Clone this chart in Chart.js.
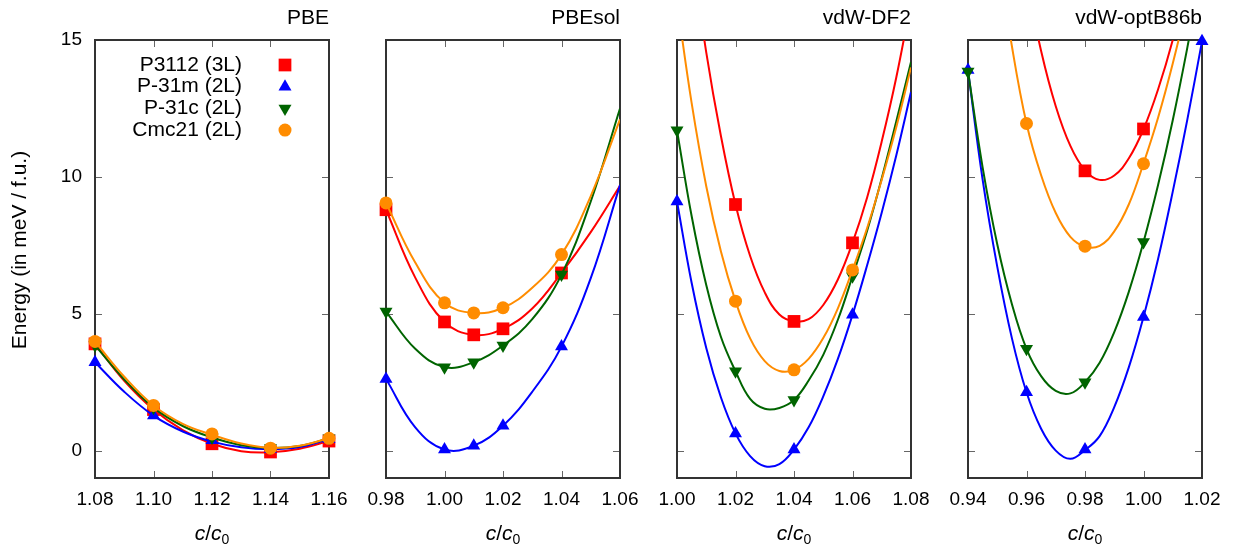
<!DOCTYPE html>
<html>
<head>
<meta charset="utf-8">
<script src="https://cdn.jsdelivr.net/npm/chart.js@4.4.1/dist/chart.umd.min.js"></script>
<style>
  html, body { margin: 0; padding: 0; background: #fff; }
  #wrap { position: relative; width: 1238px; height: 550px; }
  #wrap canvas { position: absolute; left: 0; top: 0; }
</style>
</head>
<body>
<div id="wrap">
  <canvas id="c0" width="1238" height="550"></canvas>
  <canvas id="c1" width="1238" height="550"></canvas>
  <canvas id="c2" width="1238" height="550"></canvas>
  <canvas id="c3" width="1238" height="550"></canvas>
</div>
<script>
// ---- data ----
const seriesNames = ['P3112 (3L)', 'P-31m (2L)', 'P-31c (2L)', 'Cmc21 (2L)'];
const panelTitles = ['PBE', 'PBEsol', 'vdW-DF2', 'vdW-optB86b'];
const yTicks = [0, 5, 10, 15];

// PBE
const pbeTicks = [1.08, 1.10, 1.12, 1.14, 1.16];
const pbeX = [1.08, 1.10, 1.12, 1.14, 1.16];
const pbeP3112 = [3.9, 1.5, 0.25, -0.05, 0.35];
const pbeP31m = [3.23, 1.28, 0.38, 0.05, 0.42];
const pbeP31c = [3.85, 1.57, 0.48, 0.1, 0.45];
const pbeCmc21 = [3.99, 1.65, 0.61, 0.09, 0.45];
const pbeFitX = [1.08, 1.09, 1.10, 1.11, 1.12, 1.13, 1.14, 1.15, 1.16];
const pbeFitP3112 = [3.9, 2.55, 1.5, 0.75, 0.25, -0.02, -0.06, 0.07, 0.35];
const pbeFitP31m = [3.23, 2.15, 1.28, 0.7, 0.33, 0.12, 0.05, 0.13, 0.42];
const pbeFitP31c = [3.85, 2.6, 1.57, 0.9, 0.48, 0.2, 0.1, 0.17, 0.45];
const pbeFitCmc21 = [3.99, 2.7, 1.65, 0.98, 0.58, 0.26, 0.1, 0.18, 0.45];

// PBEsol
const solTicks = [0.98, 1.00, 1.02, 1.04, 1.06];
const solX = [0.98, 1.00, 1.01, 1.02, 1.04];
const solP3112 = [8.8, 4.7, 4.23, 4.45, 6.49];
const solP31m = [2.62, 0.04, 0.18, 0.91, 3.8];
const solP31c = [5.08, 3.05, 3.23, 3.84, 6.43];
const solCmc21 = [9.05, 5.4, 5.03, 5.22, 7.16];
const solFitX = [0.98, 0.99, 1.00, 1.01, 1.02, 1.03, 1.04, 1.05, 1.06];
const solFitP3112 = [8.8, 6.32, 4.7, 4.23, 4.45, 5.19, 6.49, 7.98, 9.67];
const solFitP31m = [2.62, 0.85, 0.04, 0.18, 0.91, 2.15, 3.8, 6.3, 9.7];
const solFitP31c = [5.08, 3.72, 3.05, 3.23, 3.84, 4.8, 6.43, 9.1, 12.5];
const solFitCmc21 = [9.05, 6.87, 5.4, 5.03, 5.22, 5.95, 7.16, 9.3, 12.1];

// vdW-DF2
const df2Ticks = [1.00, 1.02, 1.04, 1.06, 1.08];
const df2X = [1.00, 1.02, 1.04, 1.06];
const df2P3112 = [null, 8.99, 4.72, 7.59];
const df2P31m = [9.1, 0.63, 0.04, 4.96];
const df2P31c = [11.7, 2.9, 1.85, 6.37];
const df2Cmc21 = [null, 5.46, 2.95, 6.6];
const df2FitX = [1.000, 1.005, 1.010, 1.015, 1.020, 1.025, 1.030, 1.035, 1.040,
                 1.045, 1.050, 1.055, 1.060, 1.065, 1.070, 1.075, 1.080];
const df2FitP3112 = [22.5, 18.3, 14.55, 11.5, 8.99, 7.11, 5.78, 4.97, 4.72, 4.8, 5.32, 6.25, 7.59, 9.25, 11.3, 13.65, 16.4];
const df2FitP31m = [9.1, 6.13, 3.75, 1.95, 0.63, -0.2, -0.57, -0.49, 0.04, 0.85, 1.98, 3.35, 4.96, 6.77, 8.7, 10.8, 13.1];
const df2FitP31c = [11.7, 8.57, 6.05, 4.16, 2.9, 1.89, 1.53, 1.56, 1.85, 2.56, 3.5, 4.78, 6.37, 8.03, 9.95, 12.04, 14.2];
const df2FitCmc21 = [16.4, 12.7, 9.66, 7.28, 5.46, 4.1, 3.27, 2.91, 2.95, 3.35, 4.11, 5.2, 6.6, 8.13, 9.9, 11.83, 14.0];

// vdW-optB86b
const b86Ticks = [0.94, 0.96, 0.98, 1.00, 1.02];
const b86X = [0.94, 0.96, 0.98, 1.00, 1.02];
const b86P3112 = [null, null, 10.22, 11.75, null];
const b86P31m = [13.9, 2.13, 0.04, 4.88, 14.95];
const b86P31c = [13.85, 3.72, 2.5, 7.62, null];
const b86Cmc21 = [null, 11.95, 7.47, 10.48, null];
const b86FitX = [0.940, 0.945, 0.950, 0.955, 0.960, 0.965, 0.970, 0.975, 0.980,
                 0.985, 0.990, 0.995, 1.000, 1.005, 1.010, 1.015, 1.020];
const b86FitP3112 = [34, 28.7, 24.2, 20.4, 17.2, 14.6, 12.58, 11.13, 10.24, 9.89, 10.05, 10.68, 11.74, 13.2, 15.0, 17.2, 19.8];
const b86FitP31m = [13.9, 9.9, 6.72, 4.11, 2.13, 0.8, 0.0, -0.3, 0.02, 0.53, 1.59, 3.05, 4.88, 7.01, 9.46, 12.1, 14.95];
const b86FitP31c = [13.85, 10.35, 7.54, 5.36, 3.72, 2.72, 2.18, 2.09, 2.5, 3.21, 4.33, 5.81, 7.62, 9.71, 12.07, 14.73, 17.6];
const b86FitCmc21 = [27.5, 22.5, 18.3, 14.78, 11.95, 10.06, 8.68, 7.81, 7.45, 7.48, 8.01, 9.0, 10.49, 12.17, 14.14, 16.4, 19.1];

// ---- styling ----
const family = '"Liberation Sans", Arial, Helvetica, sans-serif';
const colors = ['#ff0000', '#0000ff', '#006400', '#ff8c00'];
const markers = [
  { style: 'rect', radius: 9, rotation: 0 },
  { style: 'triangle', radius: 7.5, rotation: 0 },
  { style: 'triangle', radius: 7.5, rotation: 180 },
  { style: 'circle', radius: 6.5, rotation: 0 }
];
const plotLefts = [95, 386, 677, 968];
const plotWidth = 234;
const plotTop = 40;
const plotBottom = 478;

const panels = [
  { ticks: pbeTicks, x: pbeX, ys: [pbeP3112, pbeP31m, pbeP31c, pbeCmc21],
    fitX: pbeFitX, fits: [pbeFitP3112, pbeFitP31m, pbeFitP31c, pbeFitCmc21] },
  { ticks: solTicks, x: solX, ys: [solP3112, solP31m, solP31c, solCmc21],
    fitX: solFitX, fits: [solFitP3112, solFitP31m, solFitP31c, solFitCmc21] },
  { ticks: df2Ticks, x: df2X, ys: [df2P3112, df2P31m, df2P31c, df2Cmc21],
    fitX: df2FitX, fits: [df2FitP3112, df2FitP31m, df2FitP31c, df2FitCmc21] },
  { ticks: b86Ticks, x: b86X, ys: [b86P3112, b86P31m, b86P31c, b86Cmc21],
    fitX: b86FitX, fits: [b86FitP3112, b86FitP31m, b86FitP31c, b86FitCmc21] }
];

// frame, inward ticks and the texts gnuplot puts around the plot
const panelPlugin = {
  id: 'panel',
  beforeDatasetsDraw(chart, args, opts) {
    const { ctx, chartArea: a, scales: { x, y } } = chart;
    ctx.save();
    ctx.strokeStyle = '#666';
    ctx.lineWidth = 1;
    ctx.beginPath();
    x.ticks.forEach(t => {
      const px = Math.round(x.getPixelForValue(t.value)) + 0.5;
      ctx.moveTo(px, a.bottom); ctx.lineTo(px, a.bottom - 7);
      ctx.moveTo(px, a.top); ctx.lineTo(px, a.top + 7);
    });
    y.ticks.forEach(t => {
      const py = Math.round(y.getPixelForValue(t.value)) + 0.5;
      ctx.moveTo(a.left, py); ctx.lineTo(a.left + 7, py);
      ctx.moveTo(a.right, py); ctx.lineTo(a.right - 7, py);
    });
    ctx.stroke();
    ctx.strokeStyle = '#333';
    ctx.lineWidth = 2;
    ctx.strokeRect(a.left, a.top, a.right - a.left, a.bottom - a.top);
    ctx.restore();
  },
  afterDraw(chart, args, opts) {
    const { ctx, chartArea: a } = chart;
    ctx.save();
    ctx.fillStyle = '#000';

    ctx.font = '21px ' + family;
    ctx.textAlign = 'right';
    ctx.textBaseline = 'alphabetic';
    ctx.fillText(opts.title, a.right, 24);

    // c/c0
    const parts = [
      ['c', 'italic 21px ' + family, 0],
      ['/', '21px ' + family, 0],
      ['c', 'italic 21px ' + family, 0],
      ['0', '14px ' + family, 4]
    ];
    let total = 0;
    parts.forEach(p => { ctx.font = p[1]; total += ctx.measureText(p[0]).width; });
    let cx = (a.left + a.right) / 2 - total / 2;
    ctx.textAlign = 'left';
    parts.forEach(p => {
      ctx.font = p[1];
      ctx.fillText(p[0], cx, 540 + p[2]);
      cx += ctx.measureText(p[0]).width;
    });

    if (opts.first) {
      ctx.save();
      ctx.translate(20, 250);
      ctx.rotate(-Math.PI / 2);
      ctx.font = '21px ' + family;
      ctx.textAlign = 'center';
      ctx.textBaseline = 'middle';
      ctx.fillText('Energy (in meV / f.u.)', 0, 0);
      ctx.restore();

      ctx.font = '21px ' + family;
      ctx.textAlign = 'right';
      ctx.textBaseline = 'middle';
      seriesNames.forEach((name, i) => {
        const ry = 65 + i * 21.7;
        ctx.fillStyle = '#000';
        ctx.fillText(name, 242, ry);
        ctx.fillStyle = colors[i];
        Chart.helpers.drawPoint(ctx, {
          pointStyle: markers[i].style, rotation: markers[i].rotation,
          radius: markers[i].radius, borderWidth: 0
        }, 285, ry);
      });
    }
    ctx.restore();
  }
};

panels.forEach((p, k) => {
  const datasets = [];
  colors.forEach((color, s) => {
    datasets.push({
      data: p.fitX.map((x, i) => ({ x, y: p.fits[s][i] })),
      showLine: true,
      borderColor: color,
      borderWidth: 2,
      pointRadius: 0,
      tension: 0.4,
      order: 8 - 2 * s
    });
    datasets.push({
      data: p.x.map((x, i) => ({ x, y: p.ys[s][i] })),
      showLine: false,
      backgroundColor: color,
      borderColor: color,
      pointStyle: markers[s].style,
      pointRotation: markers[s].rotation,
      pointRadius: markers[s].radius,
      pointBorderWidth: 0,
      clip: false,
      order: 7 - 2 * s
    });
  });

  const left = plotLefts[k];
  new Chart(document.getElementById('c' + k), {
    type: 'scatter',
    data: { datasets },
    plugins: [panelPlugin],
    options: {
      responsive: false,
      animation: false,
      devicePixelRatio: 1,
      events: [],
      layout: { padding: { left: 0, right: 1238 - left - plotWidth, top: plotTop, bottom: 0 } },
      elements: { line: { capBezierPoints: false } },
      plugins: {
        legend: { display: false },
        tooltip: { enabled: false },
        panel: { title: panelTitles[k], first: k === 0 }
      },
      scales: {
        x: {
          type: 'linear',
          min: p.ticks[0],
          max: p.ticks[p.ticks.length - 1],
          afterFit: s => { s.height = 550 - plotBottom; },
          afterBuildTicks: s => { s.ticks = p.ticks.map(v => ({ value: v })); },
          grid: { display: false, drawTicks: false },
          border: { display: false },
          ticks: {
            autoSkip: false, maxRotation: 0, padding: 10, color: '#000',
            font: { family: family, size: 19 },
            callback: v => v.toFixed(2)
          }
        },
        y: {
          type: 'linear',
          min: -1,
          max: 15,
          afterFit: s => { s.width = left; },
          afterBuildTicks: s => { s.ticks = yTicks.map(v => ({ value: v })); },
          grid: { display: false, drawTicks: false },
          border: { display: false },
          ticks: {
            display: k === 0, padding: 13, color: '#000',
            font: { family: family, size: 19 },
            callback: v => String(v)
          }
        }
      }
    }
  });
});
</script>
</body>
</html>
